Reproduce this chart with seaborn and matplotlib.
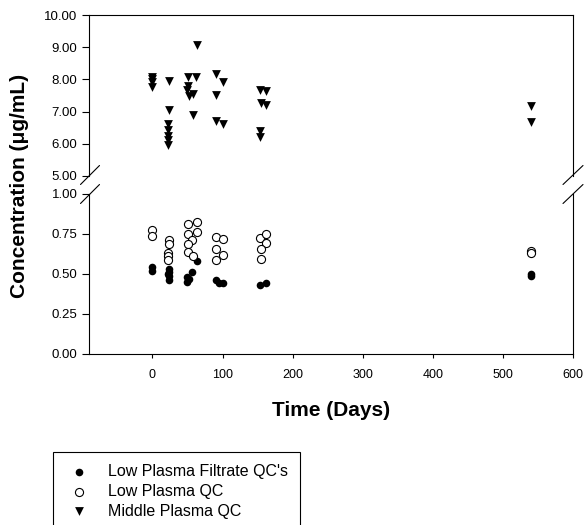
import matplotlib
matplotlib.use("Agg")
import matplotlib.pyplot as plt
from matplotlib.lines import Line2D
from matplotlib.ticker import FormatStrFormatter
import seaborn as sns
import pandas as pd

# =========================================================
# Data (time in days, concentration in ug/mL)
# =========================================================
filtrate_days = [0, 0, 23, 23, 23, 23, 22, 49, 49, 52, 57, 63, 90, 95, 100, 153, 162, 540, 540]
filtrate_conc = [0.545, 0.52, 0.53, 0.51, 0.49, 0.46, 0.50, 0.48, 0.45, 0.47, 0.51, 0.58,
                 0.46, 0.445, 0.445, 0.43, 0.445, 0.50, 0.49]

low_days = [0, 0, 24, 24, 22, 22, 22, 51, 63, 63, 50, 57, 50, 51, 58,
            90, 100, 90, 100, 91, 153, 162, 162, 155, 155, 540, 540]
low_conc = [0.773, 0.737, 0.71, 0.69, 0.633, 0.61, 0.59, 0.81, 0.827, 0.764, 0.752, 0.71,
            0.69, 0.64, 0.61, 0.73, 0.717, 0.654, 0.62, 0.588, 0.727, 0.752, 0.696,
            0.654, 0.592, 0.645, 0.63]

mid_days = [0, 0, 0, 0, 24, 24, 22, 22, 22, 22, 22, 63, 50, 62, 50, 49, 58, 52, 58,
            90, 100, 91, 91, 100, 153, 162, 155, 162, 153, 154, 540, 540]
mid_conc = [8.08, 8.0, 7.92, 7.76, 7.95, 7.05, 6.63, 6.43, 6.25, 6.12, 5.96,
            9.06, 8.09, 8.09, 7.81, 7.66, 7.55, 7.47, 6.88,
            8.18, 7.92, 7.5, 6.72, 6.63, 7.68, 7.63, 7.26, 7.2, 6.4, 6.22, 7.16, 6.67]

series_labels = ["Low Plasma Filtrate QC's", "Low Plasma QC", "Middle Plasma QC"]

x_ticks = [0, 100, 200, 300, 400, 500, 600]
upper_ticks = [5, 6, 7, 8, 9, 10]
lower_ticks = [0, 0.25, 0.5, 0.75, 1.0]

filtrate_df = pd.DataFrame({"day": filtrate_days, "conc": filtrate_conc})
low_df = pd.DataFrame({"day": low_days, "conc": low_conc})
mid_df = pd.DataFrame({"day": mid_days, "conc": mid_conc})

# =========================================================
# Style
# =========================================================
sns.set_style("white")
plt.rcParams["font.family"] = ["Liberation Sans", "DejaVu Sans"]
plt.rcParams["text.color"] = "black"
plt.rcParams["axes.labelcolor"] = "black"

W, H = 584, 525
fig = plt.figure(figsize=(W / 100, H / 100), dpi=100)

left, right = 89.3, 573.3
ax_hi = fig.add_axes([left / W, 1 - 176 / H, (right - left) / W, (176 - 15) / H])
ax_lo = fig.add_axes([left / W, 1 - 354 / H, (right - left) / W, (354 - 194) / H])

# =========================================================
# Scatter plots
# =========================================================
sns.scatterplot(data=mid_df, x="day", y="conc", ax=ax_hi, marker="v", s=40,
                color="black", edgecolor="black", linewidth=0, label=series_labels[2])
sns.scatterplot(data=filtrate_df, x="day", y="conc", ax=ax_lo, marker="o", s=30,
                color="black", edgecolor="black", linewidth=0, label=series_labels[0])
sns.scatterplot(data=low_df, x="day", y="conc", ax=ax_lo, marker="o", s=34,
                color="white", edgecolor="black", linewidth=0.8, label=series_labels[1])

for ax in (ax_hi, ax_lo):
    if ax.get_legend() is not None:
        ax.get_legend().remove()
    ax.set_xlim(-90, 600)
    ax.set_xlabel("")
    ax.set_ylabel("")
    for sp in ax.spines.values():
        sp.set_color("black")
        sp.set_linewidth(0.8)
    ax.yaxis.set_major_formatter(FormatStrFormatter("%.2f"))
    ax.tick_params(axis="y", direction="out", length=5, width=0.8, pad=3.5,
                   labelsize=9.5, left=True, right=False, colors="black")

ax_hi.set_ylim(5, 10)
ax_hi.set_yticks(upper_ticks)
ax_hi.spines["bottom"].set_visible(False)
ax_hi.tick_params(axis="x", bottom=False, labelbottom=False)

ax_lo.set_ylim(0, 1)
ax_lo.set_yticks(lower_ticks)
ax_lo.spines["top"].set_visible(False)
ax_lo.set_xticks(x_ticks)
ax_lo.tick_params(axis="x", direction="out", length=3, width=0.8, pad=8,
                  labelsize=9, bottom=True, colors="black")

ax_lo.set_xlabel("Time (Days)", fontsize=15, fontweight="bold", labelpad=14,
                 color="black")
fig.text(20 / W, 1 - 186 / H, "Concentration (μg/mL)", rotation=90,
         fontsize=15, fontweight="bold", ha="center", va="center", color="black")

# =========================================================
# Axis break marks
# =========================================================
for cx, half in ((90, 9.5), (573, 10)):
    for cy in (175, 194):
        fig.add_artist(Line2D([(cx - half) / W, (cx + half) / W],
                              [1 - (cy + 9.5) / H, 1 - (cy - 9.5) / H],
                              transform=fig.transFigure, color="black", linewidth=0.8))

# =========================================================
# Legend below the plot
# =========================================================
h_lo, l_lo = ax_lo.get_legend_handles_labels()
h_hi, l_hi = ax_hi.get_legend_handles_labels()
fig.legend(h_lo + h_hi, l_lo + l_hi, loc="upper left",
           bbox_to_anchor=(53 / W, 1 - 452 / H), bbox_transform=fig.transFigure,
           borderaxespad=0, frameon=True, fancybox=False, edgecolor="black",
           framealpha=1, fontsize=11.5, borderpad=0.75, handlelength=1.8,
           handletextpad=0.9, labelspacing=0.3)
fig.legends[0].get_frame().set_linewidth(0.8)

fig.savefig("out.png", dpi=100)
